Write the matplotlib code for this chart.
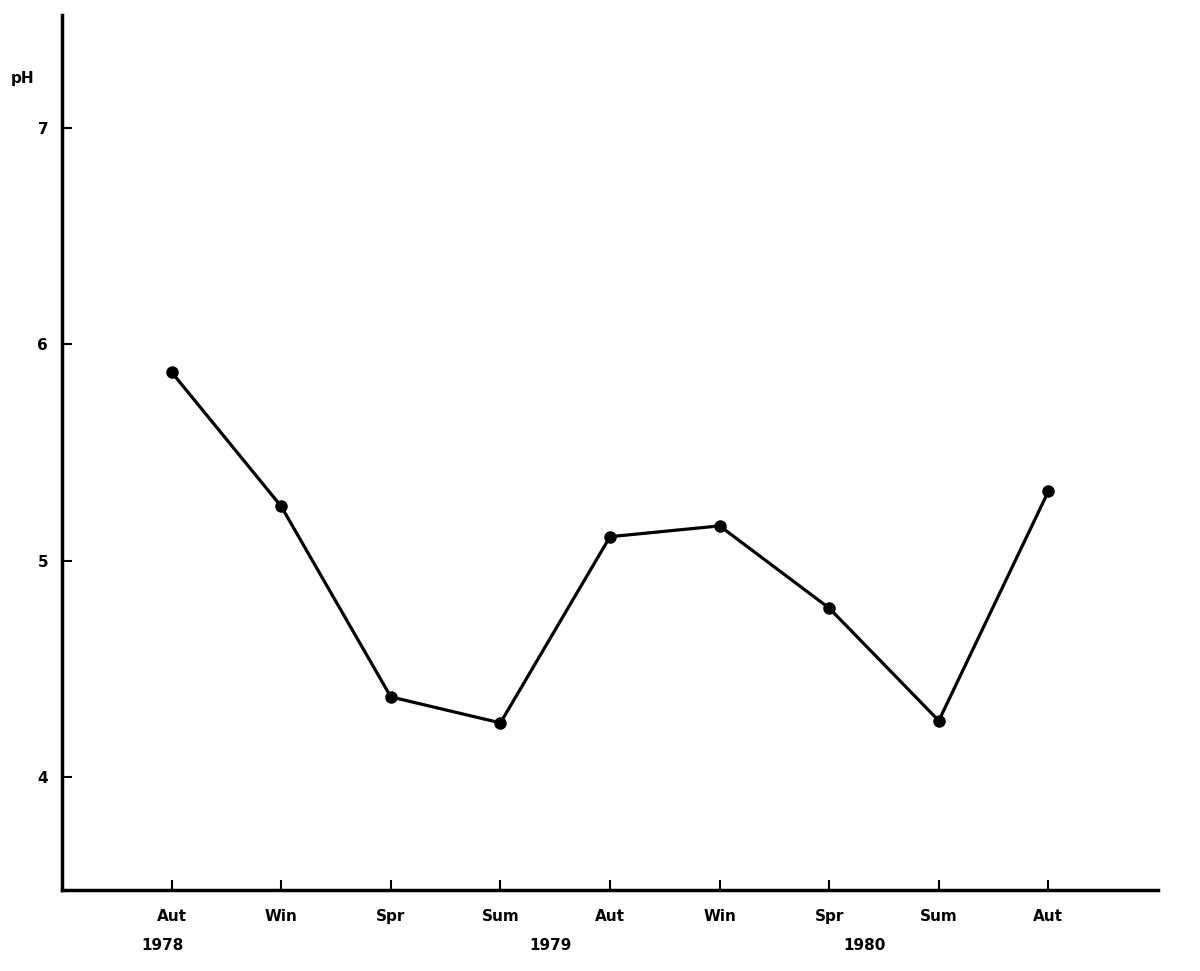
import matplotlib
matplotlib.use("Agg")
import matplotlib.pyplot as plt

seasons = ["Aut", "Win", "Spr", "Sum", "Aut", "Win", "Spr", "Sum", "Aut"]
ph = [5.87, 5.25, 4.37, 4.25, 5.11, 5.16, 4.78, 4.26, 5.32]
years = ["1978", "1979", "1980"]
year_pos = [-0.08, 3.46, 6.32]
y_ticks = [4, 5, 6, 7]

fig = plt.figure(figsize=(12, 9.71), dpi=100)
ax = fig.add_axes([0.0517, 0.0834, 0.9133, 0.9012])

x = list(range(len(ph)))
ax.plot(x, ph, "-", color="black", lw=2.3)
ax.plot(x, ph, "o", color="black", ms=8)

ax.set_xlim(-1, 9)
ax.set_ylim(3.478, 7.52)

for s in ["top", "right"]:
    ax.spines[s].set_visible(False)
for s in ["left", "bottom"]:
    ax.spines[s].set_linewidth(2.5)

font = dict(family="DejaVu Sans", weight="bold", size=11)
ax.set_xticks(x)
ax.set_xticklabels(seasons, **font)
ax.set_yticks(y_ticks)
ax.set_yticklabels([str(v) for v in y_ticks], **font)
ax.tick_params(axis="x", direction="in", length=7, width=1.5, pad=14)
ax.tick_params(axis="y", direction="in", length=7, width=1.5, pad=10)

for lab, xp in zip(years, year_pos):
    ax.text(xp, -0.055, lab, transform=ax.get_xaxis_transform(),
            ha="center", va="top", **font)

ax.text(-0.036, 0.927, "pH", transform=ax.transAxes, ha="center",
        va="center", **font)

fig.savefig("out.png", dpi=100)
